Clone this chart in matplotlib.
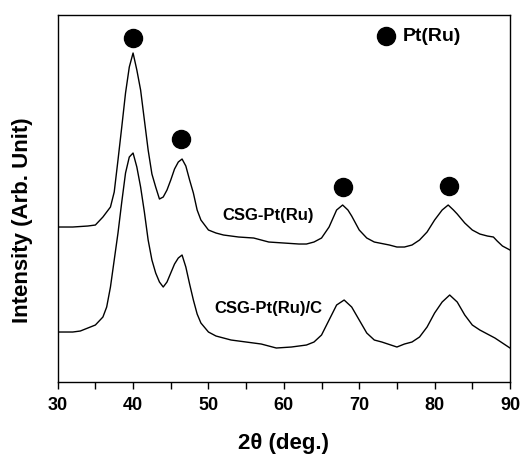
import matplotlib
matplotlib.use('Agg')
import matplotlib.pyplot as plt
from matplotlib.ticker import MultipleLocator

plt.rcParams['font.family'] = ['Liberation Sans', 'DejaVu Sans']
plt.rcParams['font.weight'] = 'bold'

# 2theta (deg) and intensity (arb. units)
two_theta_a = [30, 32, 34, 35, 36, 37, 37.5, 38, 38.5, 39, 39.5, 40, 40.5, 41, 41.5, 42, 42.5,
               43, 43.5, 44, 44.5, 45, 45.5, 46, 46.5, 47, 47.5, 48, 48.5, 49, 50, 51, 52,
               54, 56, 58, 60, 62, 63, 64, 65, 66, 67, 67.8, 68.5, 69, 70, 71, 72, 74, 75,
               76, 77, 78, 79, 80, 81, 81.8, 82.5, 83, 84, 85, 86, 87, 87.8, 88.3, 89, 90]
pt_ru = [155, 155, 156, 157, 165, 175, 190, 222, 255, 289, 315, 329, 312, 292, 262, 232, 208,
         195, 183, 185, 192, 202, 213, 220, 223, 216, 202, 189, 172, 162, 152, 149, 147,
         145, 144, 140, 139, 138, 138, 140, 144, 155, 172, 177, 172, 166, 152, 144, 140, 137, 135,
         135, 137, 142, 150, 162, 172, 177, 172, 168, 159, 152, 148, 146, 145, 141, 136, 132]

two_theta_b = [30, 32, 33, 34, 35, 36, 36.5, 37, 37.5, 38, 38.5, 39, 39.5, 40, 40.5, 41, 41.5,
               42, 42.5, 43, 43.5, 44, 44.5, 45, 45.5, 46, 46.5, 47, 47.5, 48, 48.5, 49, 50,
               51, 53, 55, 57, 59, 61, 63, 64, 65, 66, 67, 68, 69, 70, 71, 72, 73, 75, 76,
               77, 78, 79, 80, 81, 82, 83, 84, 85, 86, 87, 88, 89, 90]
pt_ru_c = [50, 50, 51, 54, 57, 65, 75, 95, 122, 149, 180, 209, 225, 229, 215, 195, 170,
           142, 122, 109, 100, 95, 100, 109, 118, 124, 127, 115, 98, 82, 68, 59, 50,
           46, 42, 40, 38, 34, 35, 37, 40, 47, 62, 77, 82, 75, 62, 49, 42, 40, 35, 38,
           40, 45, 55, 69, 80, 87, 80, 67, 57, 52, 48, 44, 39, 34]

peak_pos = [40, 46.4, 67.9, 81.9]
peak_marker_y = [344, 243, 195, 196]

fig = plt.figure(figsize=(5.22, 4.55), dpi=100)
ax = fig.add_axes([0.1105, 0.1604, 0.8665, 0.8066])

ax.plot(two_theta_a, pt_ru, color='black', lw=1.0)
ax.plot(two_theta_b, pt_ru_c, color='black', lw=1.0)
ax.plot(peak_pos, peak_marker_y, 'o', color='black', ms=13, ls='none')

# legend-like key
ax.plot([73.5], [346], 'o', color='black', ms=13)
ax.text(75.8, 346, 'Pt(Ru)', fontsize=14, fontweight='bold', va='center', ha='left')

ax.text(57.9, 167, 'CSG-Pt(Ru)', fontsize=12, fontweight='bold', ha='center', va='center')
ax.text(57.9, 74, 'CSG-Pt(Ru)/C', fontsize=12, fontweight='bold', ha='center', va='center')

ax.set_xlim(30, 90)
ax.set_ylim(0, 367)
ax.xaxis.set_major_locator(MultipleLocator(10))
ax.xaxis.set_minor_locator(MultipleLocator(5))
ax.tick_params(axis='x', which='both', direction='out', length=5, width=1, labelsize=13, pad=6)
ax.set_yticks([])
for lbl in ax.get_xticklabels():
    lbl.set_fontweight('bold')
for sp in ax.spines.values():
    sp.set_linewidth(1.0)

ax.set_xlabel('2\u03b8 (deg.)', fontsize=16, fontweight='bold')
ax.xaxis.set_label_coords(0.5, -0.140)
ax.set_ylabel('Intensity (Arb. Unit)', fontsize=16, fontweight='bold')
ax.yaxis.set_label_coords(-0.055, 0.44)

fig.savefig('out.png', dpi=100)
